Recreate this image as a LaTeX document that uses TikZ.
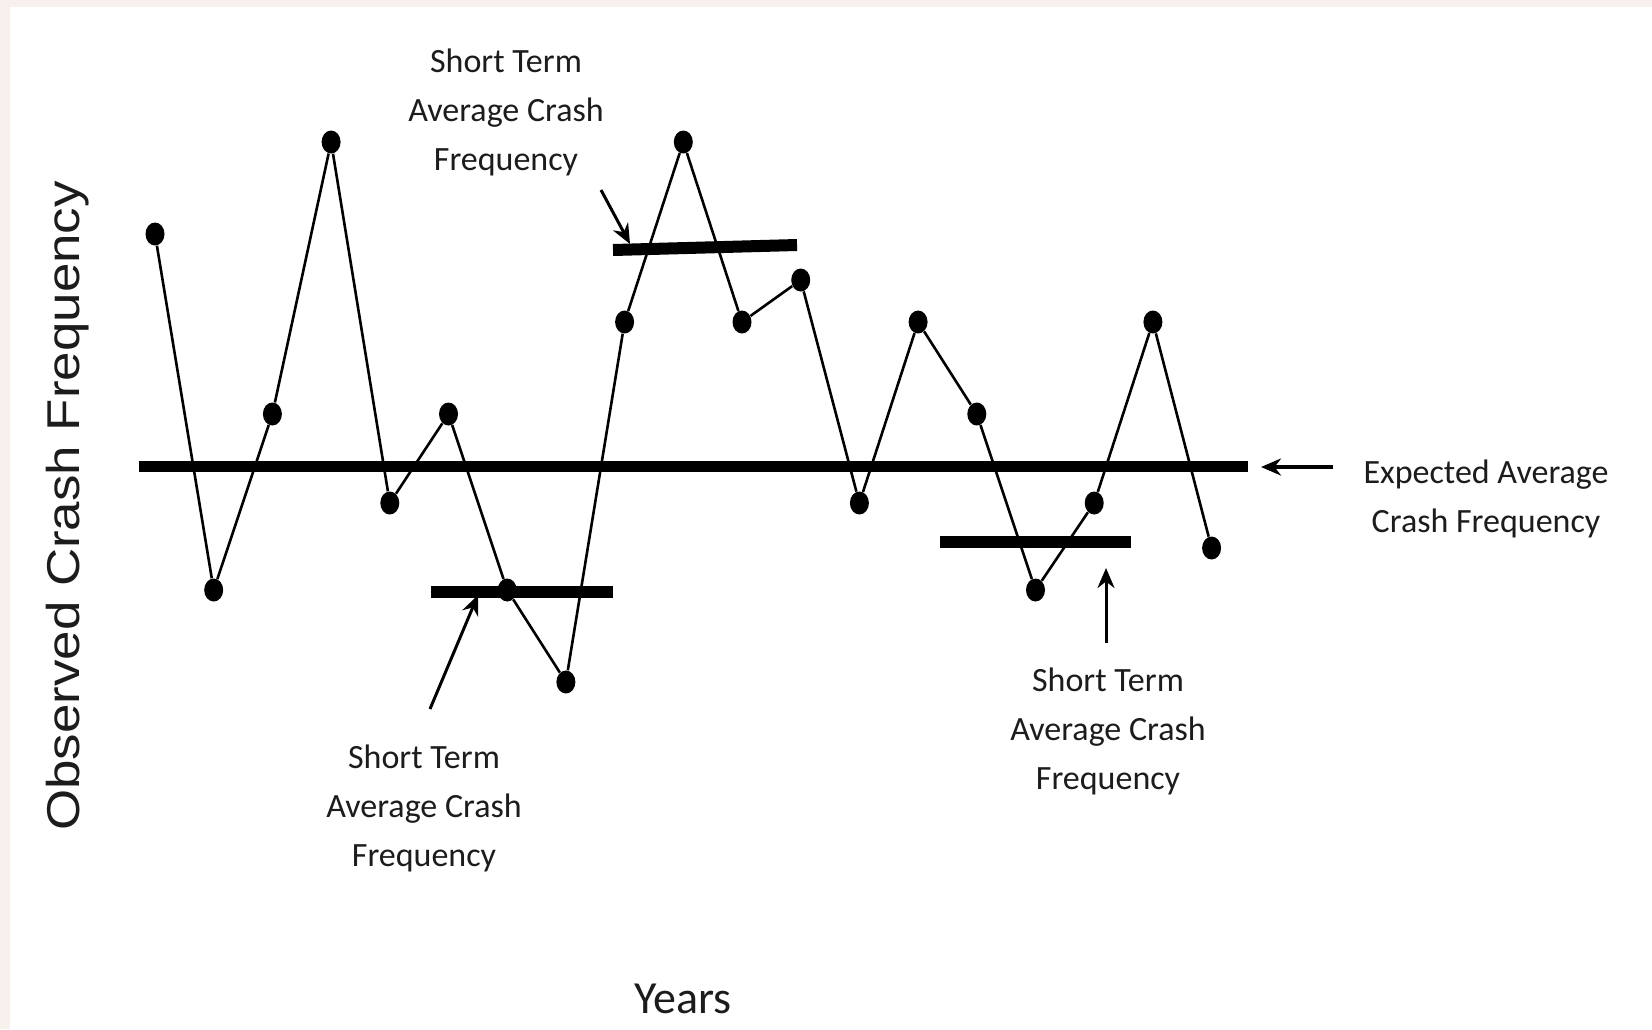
\documentclass[tikz,border=0pt]{standalone}
\usepackage{fontspec}
\setmainfont{Carlito}
\newfontfamily\axisfont{Liberation Sans}
\usepackage{tikz}
\usetikzlibrary{shapes.geometric,arrows.meta}
\definecolor{pagepink}{HTML}{F8F0ED}
\definecolor{inkgray}{HTML}{1C1C1C}
\def\wholepage{(0,0) rectangle (1652,1029)}
\def\chartframe{(10,7) rectangle (1652,1029)}
\def\stfa{Short Term\\Average Crash\\Frequency}

\begin{document}
\begin{tikzpicture}[x=0.5pt,y=-0.5pt,
    dot/.style={ellipse,fill=black,inner sep=0pt,minimum width=9.5pt,minimum height=11.5pt},
    trace/.style={line width=1.3pt},
    meanline/.style={line width=5.5pt},
    avgbar/.style={line width=6pt},
    pointer/.style={line width=1.5pt,-{Stealth[length=10pt,width=8.5pt]}},
    note/.style={text=inkgray,align=center,font=\fontsize{17}{24.5}\selectfont}]
\useasboundingbox \wholepage;
\fill[pagepink] \wholepage;
\fill[white] \chartframe;

% expected average and the three short term averages
\coordinate (ml) at (139,466);
\coordinate (mr) at (1248,466);
\draw[meanline] (ml) -- (mr);
\coordinate (s1a) at (613,250);
\coordinate (s1b) at (797,245);
\coordinate (s2a) at (431,592);
\coordinate (s2b) at (613,592);
\coordinate (s3a) at (940,542);
\coordinate (s3b) at (1131,542);
\draw[avgbar] (s1a) -- (s1b);
\draw[avgbar] (s2a) -- (s2b);
\draw[avgbar] (s3a) -- (s3b);

% yearly observations
\foreach \x/\y [count=\i] in {155/234, 213.7/590, 272.4/414, 331.1/142, 389.8/503,
    448.5/414, 507.2/590, 565.9/682, 624.6/322, 683.3/142, 742/322, 800.7/280,
    859.4/503, 918.1/322, 976.8/414, 1035.5/590, 1094.2/503, 1152.9/322, 1211.6/548}
  \node[dot] (p\i) at (\x,\y) {};
\foreach \i [remember=\i as \j (initially 1)] in {2,...,19}
  \draw[trace] (p\j) -- (p\i);

% labels
\node[note] (t1) at (506,112) {\stfa};
\node[note] (t2) at (424,808) {\stfa};
\node[note] (t3) at (1108,731) {\stfa};
\node[note,align=center] (t4) at (1486,499) {Expected Average\\Crash Frequency};
\node[text=inkgray,font=\fontsize{23}{26}\selectfont] (xl) at (683,999) {Years};
\node[text=inkgray,font=\axisfont\fontsize{23}{26}\selectfont,rotate=90,xscale=1.15] (yl) at (68,506) {Observed Crash Frequency};

\coordinate (a1) at (601,190);
\coordinate (a1h) at (630,244);
\coordinate (a2) at (430,709);
\coordinate (a2h) at (478,595);
\coordinate (a3) at (1106,643);
\coordinate (a3h) at (1106,568);
\coordinate (a4) at (1333,467);
\coordinate (a4h) at (1261,467);
\draw[pointer] (a1) -- (a1h);
\draw[pointer] (a2) -- (a2h);
\draw[pointer] (a3) -- (a3h);
\draw[pointer,line width=2.2pt] (a4) -- (a4h);
\end{tikzpicture}
\end{document}
